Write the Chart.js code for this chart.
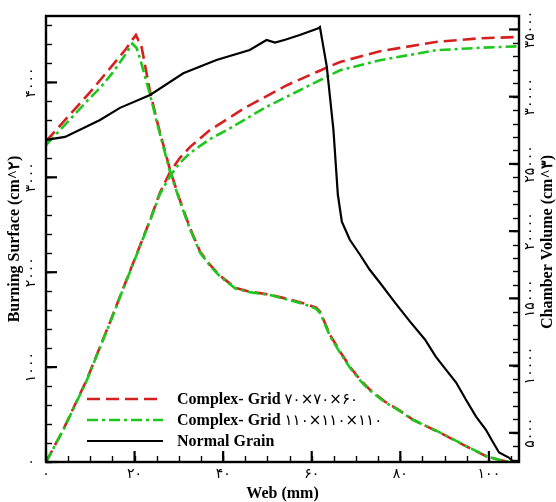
<!DOCTYPE html>
<html>
<head>
<meta charset="utf-8">
<script src="https://cdn.jsdelivr.net/npm/chart.js@4.4.0/dist/chart.umd.min.js"></script>
<style>
  html, body { margin: 0; padding: 0; background: #fff; }
  #wrap { width: 556px; height: 502px; }
</style>
</head>
<body>
<div id="wrap"><canvas id="c" width="556" height="502"></canvas></div>
<script>
// Burning surface (cm^2) vs web (mm) — complex grain, grid 70x70x60
const webSurfCoarse = [0, 5, 10, 15, 18, 20.3, 20.9, 21.4, 22.2, 23.5, 25.3, 28.0, 30.2, 32.5, 34.8, 37.0, 39.3, 42.7, 46.0, 50.6, 55.1, 58.5, 61.0, 61.9, 64.1, 66.4, 68.6, 70.9, 73.1, 76.5, 79.9, 82.8, 88.9, 95.0, 99.5, 102.5, 104.7];
const surfCoarse    = [3380, 3640, 3900, 4180, 4350, 4500, 4440, 4420, 4220, 3900, 3550, 3079, 2763, 2468, 2216, 2079, 1963, 1837, 1795, 1763, 1711, 1668, 1626, 1584, 1342, 1163, 1005, 868, 763, 637, 542, 447, 310, 163, 58, 20, 0];

// Burning surface — complex grain, grid 110x110x110
const webSurfFine = [0, 5, 10, 12.2, 15, 18, 19.5, 20.5, 21.5, 23.5, 25.3, 28.0, 30.2, 32.5, 34.8, 37.0, 39.3, 42.7, 46.0, 50.6, 55.1, 58.5, 61.0, 61.9, 64.1, 66.4, 68.6, 70.9, 73.1, 76.5, 79.9, 82.8, 88.9, 95.0, 99.5, 102.5, 104.7];
const surfFine    = [3340, 3590, 3840, 3942, 4100, 4300, 4410, 4360, 4205, 3870, 3530, 3060, 2750, 2455, 2205, 2070, 1955, 1830, 1790, 1760, 1705, 1660, 1615, 1570, 1330, 1150, 995, 860, 755, 630, 537, 445, 312, 165, 60, 22, 0];

// Burning surface — normal grain
const webSurfNormal = [0, 4.3, 12.2, 16.7, 23.5, 31.0, 38.5, 46.0, 49.8, 51.7, 54.0, 57.3, 61.5, 61.85, 63.4, 64.9, 65.9, 66.8, 68.6, 70.9, 73.1, 75.4, 78.8, 82.2, 85.6, 88.0, 90.3, 92.6, 94.8, 97.1, 99.3, 100.8, 102.3, 104.5, 105.6];
const surfNormal    = [3395, 3426, 3605, 3732, 3868, 4097, 4237, 4342, 4447, 4420, 4450, 4500, 4571, 4584, 4166, 3500, 2816, 2532, 2342, 2184, 2026, 1889, 1679, 1479, 1289, 1111, 974, 837, 658, 479, 342, 219, 100, 47, 0];

// Chamber volume (cm^3) vs web — grid 70x70x60
const webVolCoarse = [0, 3.9, 9.2, 14.4, 16.7, 20.3, 23.5, 25.7, 28.0, 30.2, 32.5, 37.0, 45.3, 54.4, 61.0, 66.4, 75.4, 88.0, 98.0, 106.8];
const volCoarse    = [2830, 5241, 8953, 13185, 15137, 18150, 20831, 22836, 24395, 25434, 26251, 27514, 29243, 30854, 31819, 32583, 33378, 34068, 34343, 34440];

// Chamber volume — grid 110x110x110
const webVolFine = [0, 3.9, 9.2, 14.4, 16.7, 20.3, 23.5, 25.7, 28.0, 30.2, 32.5, 37.0, 40.8, 49.8, 58.8, 66.4, 75.4, 88.0, 98.0, 106.8];
const volFine    = [2830, 5200, 8900, 13130, 15090, 18100, 20780, 22740, 24098, 25063, 25805, 26845, 27514, 29243, 30728, 31967, 32709, 33452, 33637, 33749];

// Axis ticks and labels
const xTickValues = [0, 20, 40, 60, 80, 100];
const xTickLabels = ['۰', '۲۰', '۴۰', '۶۰', '۸۰', '۱۰۰'];
const leftTickValues = [0, 1000, 2000, 3000, 4000];
const leftTickLabels = ['۰', '۱۰۰۰', '۲۰۰۰', '۳۰۰۰', '۴۰۰۰'];
const rightTickValues = [5000, 10000, 15000, 20000, 25000, 30000, 35000];
const rightTickLabels = ['۵۰۰۰', '۱۰۰۰۰', '۱۵۰۰۰', '۲۰۰۰۰', '۲۵۰۰۰', '۳۰۰۰۰', '۳۵۰۰۰'];

const xTitle = 'Web (mm)';
const leftTitle = 'Burning Surface (cm^۲)';
const rightTitle = 'Chamber Volume (cm^۳)';

const legendNames = ['Complex- Grid', 'Complex- Grid', 'Normal Grain'];
const legendGrids = ['۷۰×۷۰×۶۰', '۱۱۰×۱۱۰×۱۱۰', ''];

const RED = '#d62020';
const GREEN = '#1dc71d';
const BLACK = '#000000';
const DASH_RED = [13, 6];
const DASH_GREEN = [11, 4, 3, 4];

const pts = (xs, ys) => xs.map((x, i) => ({ x: x, y: ys[i] }));

// Minor tick positions
function steps(from, to, step) {
  const out = [];
  for (let v = from; v <= to + 1e-9; v += step) out.push(v);
  return out;
}
const xMinor = steps(0, 105, 5);
const leftMinor = steps(0, 4600, 200);
const rightMinor = steps(3000, 36000, 1000);

const SERIF = '"Liberation Serif", "Times New Roman", serif';
const DIGITS = '"DejaVu Sans", "Noto Sans", sans-serif';

const framePlugin = {
  id: 'framePlugin',
  afterDatasetsDraw(chart) {
    const { ctx, chartArea: a, scales } = chart;
    const sx = scales.x, sl = scales.y, sr = scales.y2;
    ctx.save();
    ctx.strokeStyle = '#000';
    ctx.fillStyle = '#000';
    ctx.setLineDash([]);

    const line = (x1, y1, x2, y2) => {
      ctx.beginPath(); ctx.moveTo(x1, y1); ctx.lineTo(x2, y2); ctx.stroke();
    };

    // minor ticks
    ctx.lineWidth = 1.4;
    xMinor.forEach(v => { const p = Math.round(sx.getPixelForValue(v)) + 0.5; line(p, a.bottom, p, a.bottom - 6); });
    leftMinor.forEach(v => { const p = Math.round(sl.getPixelForValue(v)) + 0.5; line(a.left, p, a.left + 6, p); });
    rightMinor.forEach(v => { const p = Math.round(sr.getPixelForValue(v)) + 0.5; line(a.right, p, a.right - 6, p); });

    // major ticks
    ctx.lineWidth = 2.2;
    xTickValues.forEach(v => { const p = sx.getPixelForValue(v); line(p, a.bottom, p, a.bottom - 11); });
    leftTickValues.forEach(v => { const p = sl.getPixelForValue(v); line(a.left, p, a.left + 11, p); });
    rightTickValues.forEach(v => { const p = sr.getPixelForValue(v); line(a.right, p, a.right - 10, p); });

    // frame
    ctx.lineWidth = 2.4;
    ctx.strokeRect(a.left, a.top, a.right - a.left, a.bottom - a.top);

    // tick labels
    ctx.font = '14px ' + DIGITS;
    ctx.textAlign = 'center';
    ctx.textBaseline = 'middle';
    xTickValues.forEach((v, i) => {
      ctx.fillText(xTickLabels[i], sx.getPixelForValue(v), a.bottom + 12);
    });
    const rotated = (text, x, y) => {
      ctx.save(); ctx.translate(x, y); ctx.rotate(-Math.PI / 2); ctx.fillText(text, 0, 0); ctx.restore();
    };
    leftTickValues.forEach((v, i) => rotated(leftTickLabels[i], a.left - 15, sl.getPixelForValue(v)));
    rightTickValues.forEach((v, i) => rotated(rightTickLabels[i], a.right + 11, sr.getPixelForValue(v)));

    // axis titles
    ctx.font = 'bold 16px ' + SERIF;
    ctx.fillText(xTitle, (a.left + a.right) / 2, a.bottom + 32);
    rotated(leftTitle, 15, (a.top + a.bottom) / 2);
    rotated(rightTitle, 548, (a.top + a.bottom) / 2 + 3);

    // legend
    const styles = [
      { color: RED, dash: DASH_RED, width: 2.6 },
      { color: GREEN, dash: DASH_GREEN, width: 2.6 },
      { color: BLACK, dash: [], width: 2.2 }
    ];
    const rowY = [399, 420, 441];
    styles.forEach((s, i) => {
      ctx.strokeStyle = s.color;
      ctx.lineWidth = s.width;
      ctx.setLineDash(s.dash);
      line(87, rowY[i], 163, rowY[i]);
      ctx.setLineDash([]);
      ctx.textAlign = 'left';
      ctx.font = 'bold 16px ' + SERIF;
      ctx.fillText(legendNames[i], 177, rowY[i] + 1);
      if (legendGrids[i]) {
        const w = ctx.measureText(legendNames[i] + ' ').width;
        ctx.font = '15px ' + DIGITS;
        ctx.fillText(legendGrids[i], 177 + w, rowY[i] + 1);
      }
    });
    ctx.restore();
  }
};

new Chart(document.getElementById('c'), {
  type: 'line',
  data: {
    datasets: [
      { data: pts(webSurfNormal, surfNormal), yAxisID: 'y', borderColor: BLACK, borderWidth: 2.2, order: 0 },
      { data: pts(webSurfFine, surfFine), yAxisID: 'y', borderColor: GREEN, borderWidth: 2.6, borderDash: DASH_GREEN, order: 1 },
      { data: pts(webVolFine, volFine), yAxisID: 'y2', borderColor: GREEN, borderWidth: 2.6, borderDash: DASH_GREEN, order: 1 },
      { data: pts(webSurfCoarse, surfCoarse), yAxisID: 'y', borderColor: RED, borderWidth: 2.6, borderDash: DASH_RED, order: 2 },
      { data: pts(webVolCoarse, volCoarse), yAxisID: 'y2', borderColor: RED, borderWidth: 2.6, borderDash: DASH_RED, order: 2 }
    ]
  },
  options: {
    responsive: false,
    devicePixelRatio: 1,
    animation: false,
    events: [],
    layout: { padding: { left: 46, right: 37, top: 16, bottom: 40 } },
    elements: { point: { radius: 0 }, line: { tension: 0, fill: false } },
    plugins: { legend: { display: false }, tooltip: { enabled: false } },
    scales: {
      x: { type: 'linear', min: 0, max: 106.8, display: false },
      y: { type: 'linear', position: 'left', min: 0, max: 4700, display: false },
      y2: { type: 'linear', position: 'right', min: 2830, max: 36000, display: false }
    }
  },
  plugins: [framePlugin]
});
</script>
</body>
</html>
